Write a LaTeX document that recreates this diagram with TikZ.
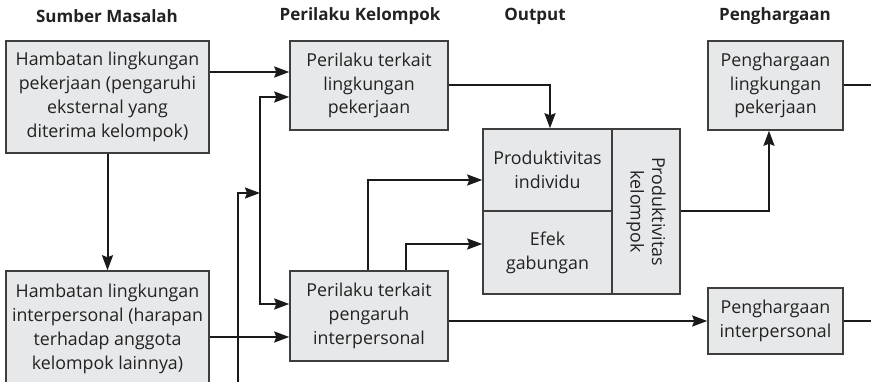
\documentclass[tikz,border=0pt]{standalone}
\usepackage{fontspec}
\setmainfont{Open Sans}
\usetikzlibrary{arrows.meta,positioning,calc}
\definecolor{boxfill}{HTML}{E7E8EA}
\definecolor{boxline}{HTML}{3E3E3E}
\definecolor{ink}{HTML}{222222}
\definecolor{wire}{HTML}{1A1A1A}
\tikzset{
  x=1pt,y=-1pt,
  panel/.style={draw=boxline,line width=1.5pt,fill=boxfill,text=ink,
    align=center,inner sep=0pt,font=\fontsize{17.8}{23.8}\selectfont},
  heading/.style={text=ink,font=\fontsize{17}{19}\selectfont\bfseries},
  link/.style={draw=wire,line width=2pt,
    -{Stealth[length=15pt,width=11pt,inset=2pt]}},
  twolink/.style={draw=wire,line width=2pt,
    {Stealth[length=15pt,width=11pt,inset=2pt]}-{Stealth[length=15pt,width=11pt,inset=2pt]}},
  plain/.style={draw=wire,line width=2pt}
}
\begin{document}
\begin{tikzpicture}
\useasboundingbox (0,0) rectangle (871,382);
\clip (0,0) rectangle (871,382);

% column headings
\node[heading] (h1) at (107,16) {Sumber Masalah};
\node[heading] (h2) at (360,16) {Perilaku Kelompok};
\node[heading] (h3) at (535,16) {Output};
\node[heading] (h4) at (775,16) {Penghargaan};

% sources
\node[panel,minimum width=203,minimum height=112] (b1) at (107.5,97)
  {Hambatan lingkungan\\pekerjaan (pengaruhi\\eksternal yang\\diterima kelompok)};
\node[panel,minimum width=203,minimum height=116] (b2) at (107.5,329)
  {Hambatan lingkungan\\interpersonal (harapan\\terhadap anggota\\kelompok lainnya)};

% group behaviour
\node[panel,minimum width=158,minimum height=89] (b3) at (369,85.5)
  {Perilaku terkait\\lingkungan\\pekerjaan};
\node[panel,minimum width=158,minimum height=90] (b4) at (369,316)
  {Perilaku terkait\\pengaruh\\interpersonal};

% output block
\node[panel,minimum width=129,minimum height=82] (ind) at (547.5,170)
  {Produktivitas\\individu};
\node[panel,minimum width=129,minimum height=83] (efk) at (547.5,252.5)
  {Efek\\gabungan};
\node[panel,minimum width=68,minimum height=165] (kel) at (646,211.5) {};
\node[text=ink,align=center,rotate=-90,font=\fontsize{17.8}{21.5}\selectfont] (kelt) at (kel.center)
  {Produktivitas\\kelompok};
\node[draw=boxline,line width=1.5pt,minimum width=197,minimum height=165,inner sep=0pt] (out) at (581.5,211.5) {};

% rewards
\node[panel,minimum width=135,minimum height=89] (b5) at (775.5,85.5)
  {Penghargaan\\lingkungan\\pekerjaan};
\node[panel,minimum width=135,minimum height=66] (b6) at (775.5,321)
  {Penghargaan\\interpersonal};

% free ends and junctions
\coordinate (j1) at (260,193);
\coordinate (feed) at (238,400);
\coordinate (r1) at (872,85.5);
\coordinate (r2) at (872,321);

% connectors
\draw[link] (b1.south) -- (b2.north);
\draw[link] ([yshift=25pt]b1.east) -- ([yshift=13.5pt]b3.west);
\draw[twolink] ([yshift=-11.5pt]b3.west) -| (j1) |- ([yshift=12pt]b4.west);
\draw[link] (feed) |- (j1);
\draw[link] ([yshift=-8pt]b2.east) -- ([yshift=-21pt]b4.west);
\draw[link] ([xshift=-1pt]b4.north) |- ([yshift=-10pt]ind.west);
\draw[link] ([xshift=37pt]b4.north) |- ([yshift=8.5pt]efk.west);
\draw[link] (b3.east) -| ([xshift=-31.5pt]out.north);
\draw[link] (kel.east) -| ([xshift=-6.5pt]b5.south);
\draw[plain] (b5.east) -- (r1);
\draw[link] (b4.east |- b6.west) -- (b6.west);
\draw[plain] (b6.east) -- (r2);
\end{tikzpicture}
\end{document}
